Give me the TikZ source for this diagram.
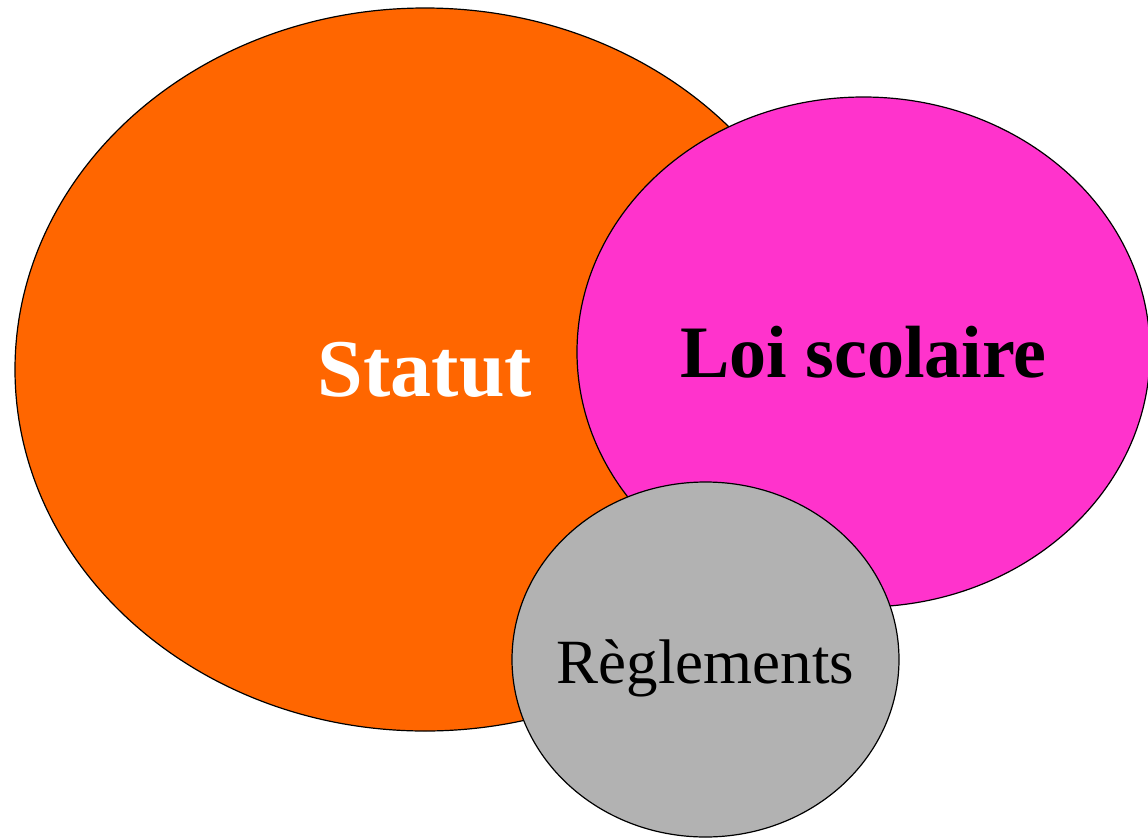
\documentclass[tikz,border=0pt]{standalone}
\usepackage{fontspec}
\setmainfont{Liberation Serif}
\usetikzlibrary{shapes.geometric}
\definecolor{statutorange}{RGB}{255,102,0}
\definecolor{loipink}{RGB}{255,51,204}
\definecolor{reglgray}{RGB}{178,178,178}
\begin{document}
\begin{tikzpicture}[x=1pt, y=-1pt,
  blob/.style={ellipse, draw=black, line width=1.2pt, inner sep=0pt}]
  \useasboundingbox (0,0) rectangle (1148,838);

  \node[blob, fill=statutorange, minimum width=820pt, minimum height=723pt,
        text=white, font=\fontsize{82}{90}\selectfont\bfseries] (statut) at (425,369.5) {Statut};
  \node[blob, fill=loipink, minimum width=573pt, minimum height=510pt,
        font=\fontsize{74}{80}\selectfont\bfseries] (loi) at (863.5,352) {Loi scolaire};
  \node[blob, fill=reglgray, minimum width=387pt, minimum height=355pt, inner sep=-20pt,
        text height=48pt, text depth=0pt,
        font=\fontsize{63}{70}\selectfont] (regl) at (705.5,659.5) {Règlements};
\end{tikzpicture}
\end{document}
